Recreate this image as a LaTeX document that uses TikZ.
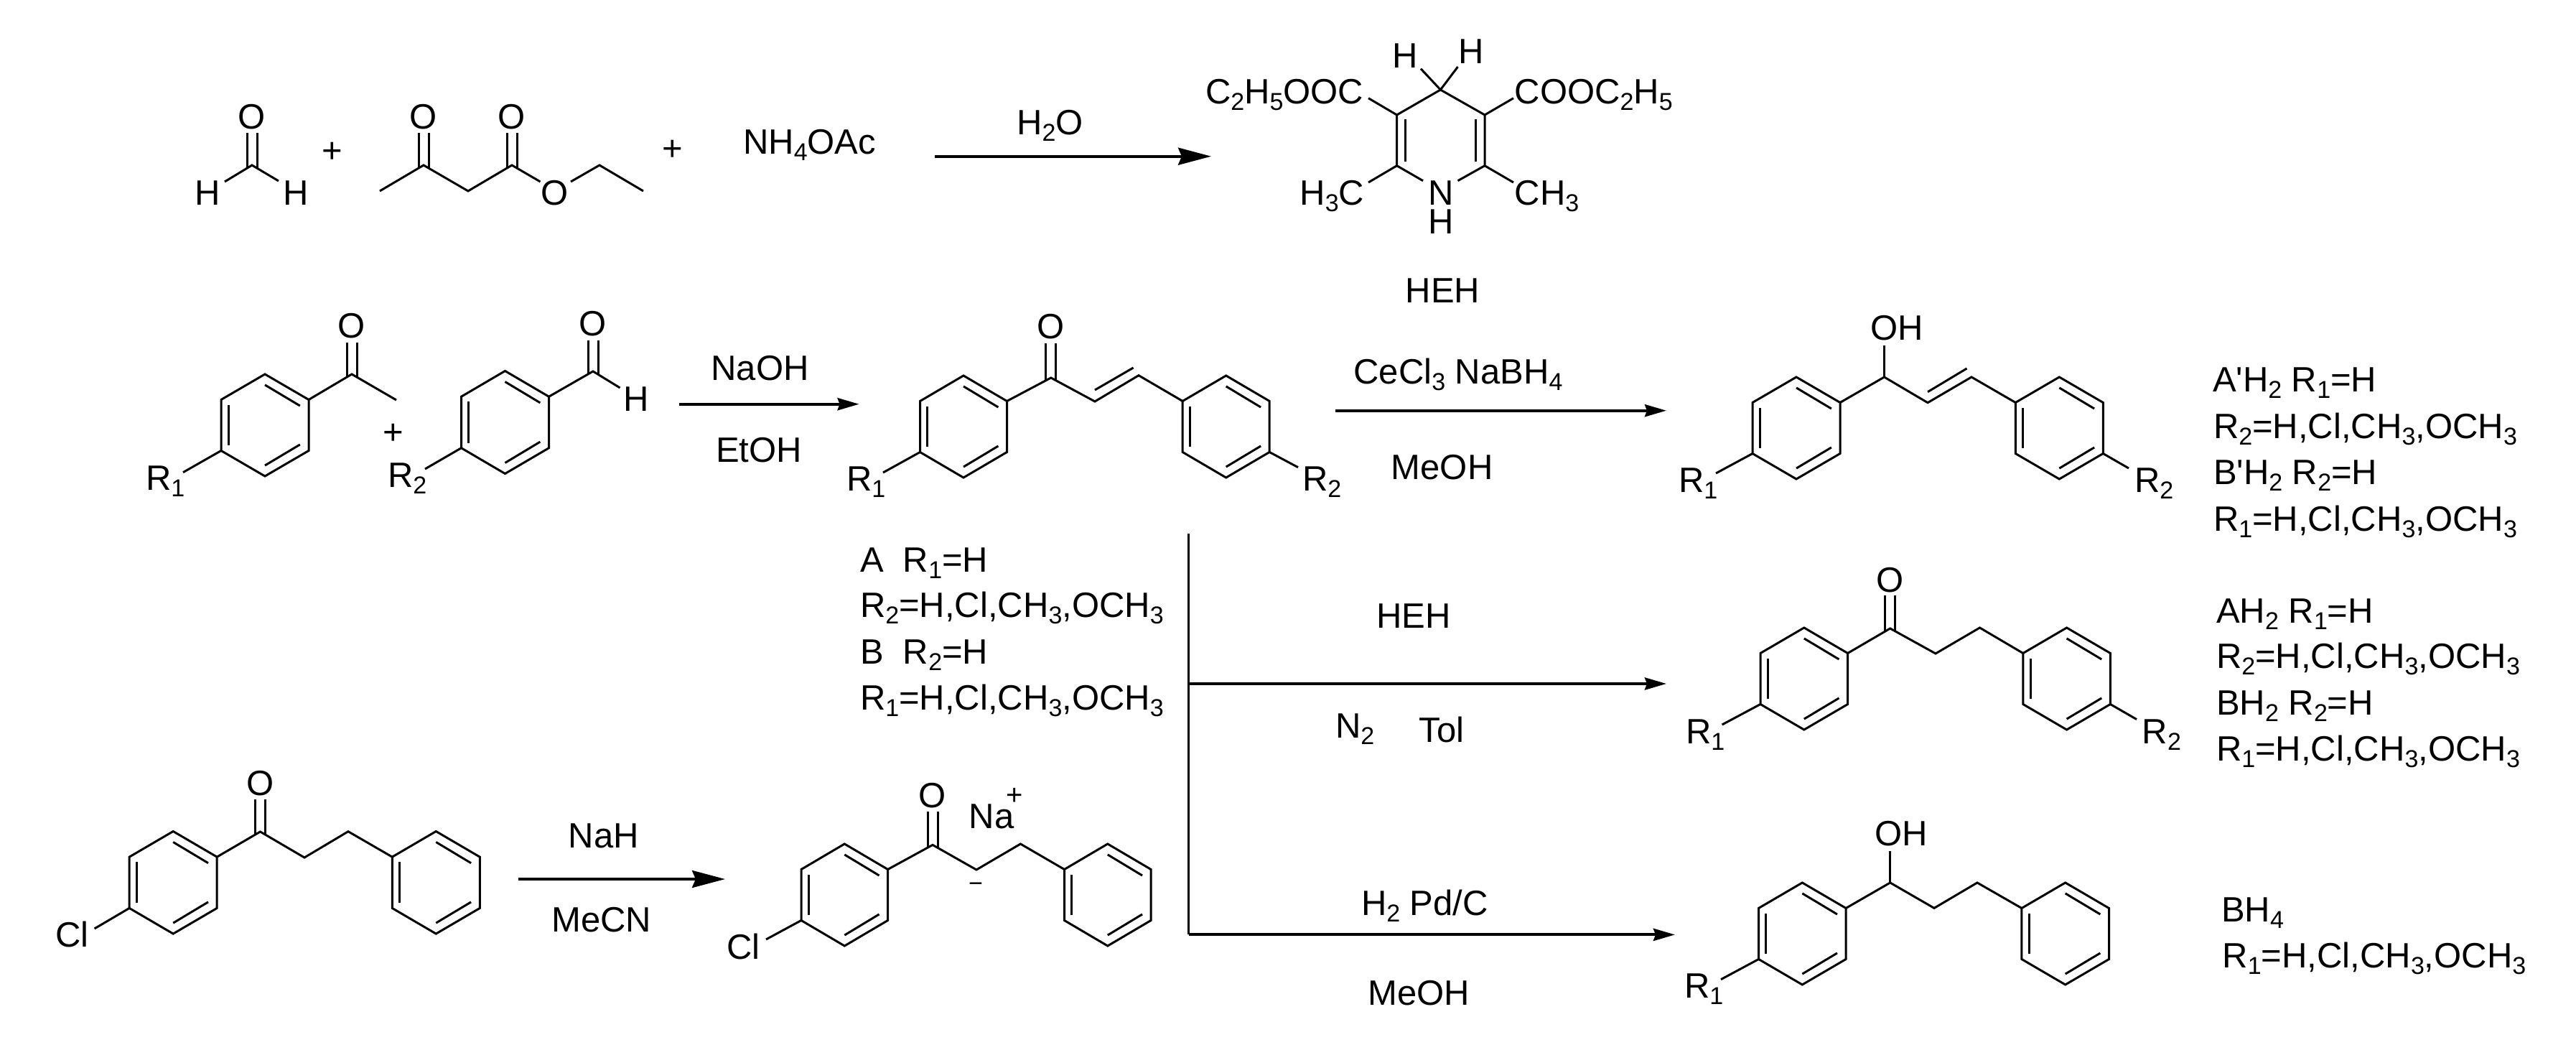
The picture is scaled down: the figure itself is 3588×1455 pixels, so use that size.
\documentclass[tikz,border=0pt]{standalone}
\usepackage{fontspec}
\newfontfamily\labf{Liberation Sans}
\usetikzlibrary{arrows.meta}
\newcommand\sbs[1]{\raisebox{-9pt}{\fontsize{34}{34}\selectfont #1}}
\tikzset{
  bond/.style={line width=3pt,line join=miter,line cap=butt,black},
  rxn/.style={line width=4pt,black},
  lab/.style={inner sep=0pt,outer sep=0pt,font=\labf\fontsize{49}{49}\selectfont,black},
  atom/.style={lab,anchor=center,text height=35pt,text depth=0pt},
  tiny/.style={inner sep=0pt,outer sep=0pt,font=\labf\fontsize{34}{34}\selectfont,black,anchor=center,text height=24pt,text depth=0pt},
  tinyplus/.style={tiny,font=\labf\fontsize{40}{40}\selectfont,text height=28pt},
  bigtip/.style={-{Stealth[length=46pt,width=24pt,inset=5pt]}},
  smalltip/.style={-{Stealth[length=30pt,width=17pt,inset=3pt]}}
}
% name cx cy w h : benzene ring with named corners
\newcommand\benz[5]{%
  \coordinate (#1-t) at (#2,#3-#5);
  \coordinate (#1-ur) at (#2+#4,#3-#5/2);
  \coordinate (#1-lr) at (#2+#4,#3+#5/2);
  \coordinate (#1-b) at (#2,#3+#5);
  \coordinate (#1-ll) at (#2-#4,#3+#5/2);
  \coordinate (#1-ul) at (#2-#4,#3-#5/2);
  \draw[bond] (#1-t) -- (#1-ur) -- (#1-lr) -- (#1-b) -- (#1-ll) -- (#1-ul) -- cycle;
  \draw[bond] (#2,#3-0.79*#5) -- (#2+0.8*#4,#3-0.38*#5);
  \draw[bond] (#2,#3+0.79*#5) -- (#2+0.8*#4,#3+0.38*#5);
  \draw[bond] (#2-0.83*#4,#3-0.4*#5) -- (#2-0.83*#4,#3+0.4*#5);
}
% x ybottom ytop : double bond to a carbonyl oxygen
\newcommand\dblup[3]{%
  \draw[bond] (#1-7,#2+4) -- (#1-7,#3);
  \draw[bond] (#1+7,#2+4) -- (#1+7,#3);
}
\newcommand\txt[4]{\node[lab,anchor=base west] (#1) at (#2-3,#3) {#4};}
\newcommand\ctxt[4]{\node[lab,anchor=base] (#1) at (#2,#3) {#4};}
\begin{document}
\begin{tikzpicture}[x=1pt,y=-1pt]
\useasboundingbox[fill=white] (0,0) rectangle (3588,1455);

% ---- formaldehyde
\coordinate (f-c) at (351,230);
\coordinate (f-hl) at (313,253);
\coordinate (f-hr) at (388,252);
\node[atom] (f-o) at (351,162) {O};
\node[atom] (f-h1) at (289.5,268) {H};
\node[atom] (f-h2) at (412,268) {H};
\draw[bond] (f-hl) -- (f-c) -- (f-hr);
\dblup{351}{230}{185}
\node[atom] (p1) at (462.5,209) {+};

% ---- ethyl acetoacetate
\coordinate (e-1) at (529,266);
\coordinate (e-2) at (590,230);
\coordinate (e-3) at (652,266);
\coordinate (e-4) at (713,230);
\coordinate (e-5) at (752.5,253);
\coordinate (e-6) at (795,253);
\coordinate (e-7) at (835,230);
\coordinate (e-8) at (896,266);
\node[atom] (e-o1) at (590,162) {O};
\node[atom] (e-o2) at (713,162) {O};
\node[atom] (e-o3) at (773,268) {O};
\draw[bond] (e-1) -- (e-2) -- (e-3) -- (e-4) -- (e-5);
\draw[bond] (e-6) -- (e-7) -- (e-8);
\dblup{590}{230}{185}
\dblup{713}{230}{185}
\node[atom] (p2) at (937,206) {+};
\txt{nh4}{1038}{215}{NH\sbs{4}OAc}

% ---- arrow 1
\coordinate (a1s) at (1302,217.7);
\coordinate (a1e) at (1687,217.7);
\draw[rxn,bigtip] (a1s) -- (a1e);
\ctxt{h2o}{1462.5}{188}{H\sbs{2}O}

% ---- HEH
\coordinate (h-t) at (2006.4,125);
\coordinate (h-l1) at (1945.6,160);
\coordinate (h-l2) at (1945.6,230.7);
\coordinate (h-r1) at (2068,160);
\coordinate (h-r2) at (2068,230.7);
\coordinate (h-nl) at (1982,251.7);
\coordinate (h-nr) at (2030.5,251.7);
\coordinate (h-hl) at (1979,95.7);
\coordinate (h-hr) at (2030.5,93);
\coordinate (h-cl) at (1906,136.7);
\coordinate (h-cr) at (2108,136.7);
\coordinate (h-ml) at (1906,254);
\coordinate (h-mr) at (2108,254);
\draw[bond] (h-nl) -- (h-l2) -- (h-l1) -- (h-t) -- (h-r1) -- (h-r2) -- (h-nr);
\draw[bond] (1957.6,166) -- (1957.6,225);
\draw[bond] (2055,166) -- (2055,225);
\draw[bond] (h-hl) -- (h-t) -- (h-hr);
\draw[bond] (h-cl) -- (h-l1);
\draw[bond] (h-cr) -- (h-r1);
\draw[bond] (h-ml) -- (h-l2);
\draw[bond] (h-mr) -- (h-r2);
\node[atom] (h-h1) at (1957,76.7) {H};
\node[atom] (h-h2) at (2049.5,71) {H};
\txt{h-e1}{1682}{145}{C\sbs{2}H\sbs{5}OOC}
\txt{h-e2}{2112.6}{145}{COOC\sbs{2}H\sbs{5}}
\txt{h-m1}{1813.5}{285.7}{H\sbs{3}C}
\txt{h-m2}{2112.6}{285.7}{CH\sbs{3}}
\ctxt{h-n}{2007}{285.7}{N}
\ctxt{h-nh}{2007}{326}{H}
\ctxt{heh1}{2009.5}{421.7}{HEH}

% ---- acetophenone
\benz{a}{369}{592}{61}{71}
\coordinate (a-co) at (490,521);
\coordinate (a-me) at (552,557);
\coordinate (a-r) at (255,657.7);
\draw[bond] (a-ur) -- (a-co) -- (a-me);
\draw[bond] (a-ll) -- (a-r);
\dblup{490}{521}{476.7}
\node[atom] (a-o) at (490,452.7) {O};
\txt{a-r1}{206}{682}{R\sbs{1}}
\node[atom] (p3) at (548,601) {+};

% ---- benzaldehyde
\benz{b}{703.5}{588}{61}{71.5}
\coordinate (b-co) at (826,517);
\coordinate (b-he) at (863.5,540);
\coordinate (b-r) at (592,653);
\draw[bond] (b-ur) -- (b-co) -- (b-he);
\draw[bond] (b-ll) -- (b-r);
\dblup{826}{517}{474}
\node[atom] (b-o) at (826,450) {O};
\ctxt{b-h}{886.6}{572}{H}
\txt{b-r2}{543}{678}{R\sbs{2}}

% ---- arrow 2
\coordinate (a2s) at (946,562.7);
\coordinate (a2e) at (1196.6,562.7);
\draw[rxn,smalltip] (a2s) -- (a2e);
\ctxt{naoh}{1058.5}{529}{NaOH}
\ctxt{etoh}{1057}{643}{EtOH}

% ---- chalcone
\benz{c}{1342}{594}{60.5}{71}
\benz{d}{1707.7}{594}{60.5}{71}
\coordinate (c-co) at (1463.8,526);
\coordinate (c-a) at (1525,559);
\coordinate (c-v) at (1586,522.7);
\coordinate (c-r1b) at (1230,658);
\coordinate (c-r2b) at (1808,650.7);
\draw[bond] (c-ur) -- (c-co) -- (c-a) -- (c-v) -- (d-ul);
\draw[bond] (1525,543) -- (1578.6,512);
\draw[bond] (c-ll) -- (c-r1b);
\draw[bond] (d-lr) -- (c-r2b);
\dblup{1463.8}{526}{478}
\node[atom] (c-o) at (1463.8,454) {O};
\txt{c-r1}{1182}{683}{R\sbs{1}}
\txt{c-r2}{1817}{683}{R\sbs{2}}

% ---- arrow 3
\coordinate (a3s) at (1860,571.7);
\coordinate (a3e) at (2321,571.7);
\draw[rxn,smalltip] (a3s) -- (a3e);
\txt{cecl}{1888.5}{534}{CeCl\sbs{3} NaBH\sbs{4}}
\ctxt{meoh1}{2008.6}{667.7}{MeOH}

% ---- allylic alcohol
\benz{e}{2502}{596}{61}{71}
\benz{f}{2868.3}{596}{61}{71}
\coordinate (e-ch) at (2624.5,525);
\coordinate (e-oh) at (2624.5,481);
\coordinate (e-a) at (2685,560.7);
\coordinate (e-v) at (2746,525);
\coordinate (e-r1b) at (2390,659);
\coordinate (e-r2b) at (2965,652);
\draw[bond] (e-ur) -- (e-ch) -- (e-a) -- (e-v) -- (f-ul);
\draw[bond] (e-ch) -- (e-oh);
\draw[bond] (2685,545.7) -- (2739.5,513);
\draw[bond] (e-ll) -- (e-r1b);
\draw[bond] (f-lr) -- (e-r2b);
\txt{e-ohl}{2608}{473.3}{OH}
\txt{e-r1}{2341}{685}{R\sbs{1}}
\txt{e-r2}{2976}{685}{R\sbs{2}}
\txt{t1}{3085}{545.7}{A'H\sbs{2} R\sbs{1}=H}
\txt{t2}{3086}{610}{R\sbs{2}=H,Cl,CH\sbs{3},OCH\sbs{3}}
\txt{t3}{3086}{674}{B'H\sbs{2} R\sbs{2}=H}
\txt{t4}{3086}{739}{R\sbs{1}=H,Cl,CH\sbs{3},OCH\sbs{3}}

% ---- A/B legend
\txt{l1}{1201}{796}{A\ \ R\sbs{1}=H}
\txt{l2}{1201}{859.5}{R\sbs{2}=H,Cl,CH\sbs{3},OCH\sbs{3}}
\txt{l3}{1201}{924}{B\ \ R\sbs{2}=H}
\txt{l4}{1201}{988}{R\sbs{1}=H,Cl,CH\sbs{3},OCH\sbs{3}}

% ---- branching arrows
\coordinate (v-t) at (1655.5,743);
\coordinate (v-m) at (1655.5,952);
\coordinate (v-b) at (1655.5,1301.4);
\coordinate (m-e) at (2321,952);
\coordinate (b-e) at (2333,1301.4);
\draw[bond,line width=3.5pt] (v-t) -- (v-b);
\draw[rxn,smalltip] (v-m) -- (m-e);
\draw[rxn,smalltip] (v-b) -- (b-e);
\ctxt{heh2}{1969}{874}{HEH}
\txt{n2}{1863}{1027}{N\sbs{2}}
\txt{tol}{1979.5}{1033.6}{Tol}
\txt{h2pd}{1899}{1274}{H\sbs{2} Pd/C}
\ctxt{meoh2}{1976}{1399.6}{MeOH}

% ---- saturated ketone (middle)
\benz{g}{2512.8}{945}{60.8}{71}
\benz{h}{2878.6}{945}{60.8}{71}
\coordinate (g-co) at (2632.7,875);
\coordinate (g-a) at (2696,910);
\coordinate (g-v) at (2757.5,874);
\coordinate (g-r1b) at (2398.6,1009);
\coordinate (g-r2b) at (2976,1001.6);
\draw[bond] (g-ur) -- (g-co) -- (g-a) -- (g-v) -- (h-ul);
\draw[bond] (g-ll) -- (g-r1b);
\draw[bond] (h-lr) -- (g-r2b);
\dblup{2632.7}{875}{829}
\node[atom] (g-o) at (2632.7,806.5) {O};
\txt{g-r1}{2351}{1035.7}{R\sbs{1}}
\txt{g-r2}{2986.7}{1035.7}{R\sbs{2}}
\txt{t5}{3090}{867}{AH\sbs{2} R\sbs{1}=H}
\txt{t6}{3090}{930.7}{R\sbs{2}=H,Cl,CH\sbs{3},OCH\sbs{3}}
\txt{t7}{3090}{995}{BH\sbs{2} R\sbs{2}=H}
\txt{t8}{3090}{1059}{R\sbs{1}=H,Cl,CH\sbs{3},OCH\sbs{3}}

% ---- saturated alcohol (bottom)
\benz{i}{2510.3}{1300}{60.8}{71}
\benz{j}{2876.7}{1300}{60.8}{71}
\coordinate (i-ch) at (2632.7,1229);
\coordinate (i-oh) at (2632.7,1184.6);
\coordinate (i-a) at (2694,1264.4);
\coordinate (i-v) at (2754,1229);
\coordinate (i-r1b) at (2397,1363.7);
\draw[bond] (i-ur) -- (i-ch) -- (i-a) -- (i-v) -- (j-ul);
\draw[bond] (i-ch) -- (i-oh);
\draw[bond] (i-ll) -- (i-r1b);
\txt{i-ohl}{2614.6}{1177.5}{OH}
\txt{i-r1}{2349}{1389}{R\sbs{1}}
\txt{t9}{3097}{1283}{BH\sbs{4}}
\txt{t10}{3098.4}{1347}{R\sbs{1}=H,Cl,CH\sbs{3},OCH\sbs{3}}

% ---- chloro ketone
\benz{k}{241.2}{1228.8}{61}{71.3}
\benz{l}{607.3}{1228.8}{61}{71.3}
\coordinate (k-co) at (362.5,1158);
\coordinate (k-a) at (424,1194);
\coordinate (k-v) at (485,1157.7);
\coordinate (k-clb) at (131.6,1293);
\draw[bond] (k-ur) -- (k-co) -- (k-a) -- (k-v) -- (l-ul);
\draw[bond] (k-ll) -- (k-clb);
\dblup{362.5}{1158}{1113}
\node[atom] (k-o) at (362.5,1090) {O};
\txt{k-cl}{80.6}{1318}{Cl}

% ---- arrow 4
\coordinate (a4s) at (721.6,1224);
\coordinate (a4e) at (1010,1224);
\draw[rxn,bigtip] (a4s) -- (a4e);
\ctxt{nah}{841}{1180}{NaH}
\ctxt{mecn}{837.6}{1297.7}{MeCN}

% ---- sodium enolate
\benz{m}{1176.3}{1246}{60.3}{71}
\benz{n}{1542.8}{1246}{60.3}{71}
\coordinate (m-co) at (1299,1176.4);
\coordinate (m-a) at (1360,1211);
\coordinate (m-v) at (1421.4,1175);
\coordinate (m-clb) at (1067,1308);
\draw[bond] (m-ur) -- (m-co) -- (m-a) -- (m-v) -- (n-ul);
\draw[bond] (m-ll) -- (m-clb);
\dblup{1299}{1176.4}{1130}
\node[atom] (m-o) at (1299,1107) {O};
\txt{m-cl}{1015}{1335}{Cl}
\txt{m-na}{1352.7}{1153}{Na}
\node[tinyplus] (m-plus) at (1413,1106) {+};
\node[tiny] (m-minus) at (1359,1229) {−};
\end{tikzpicture}
\end{document}
